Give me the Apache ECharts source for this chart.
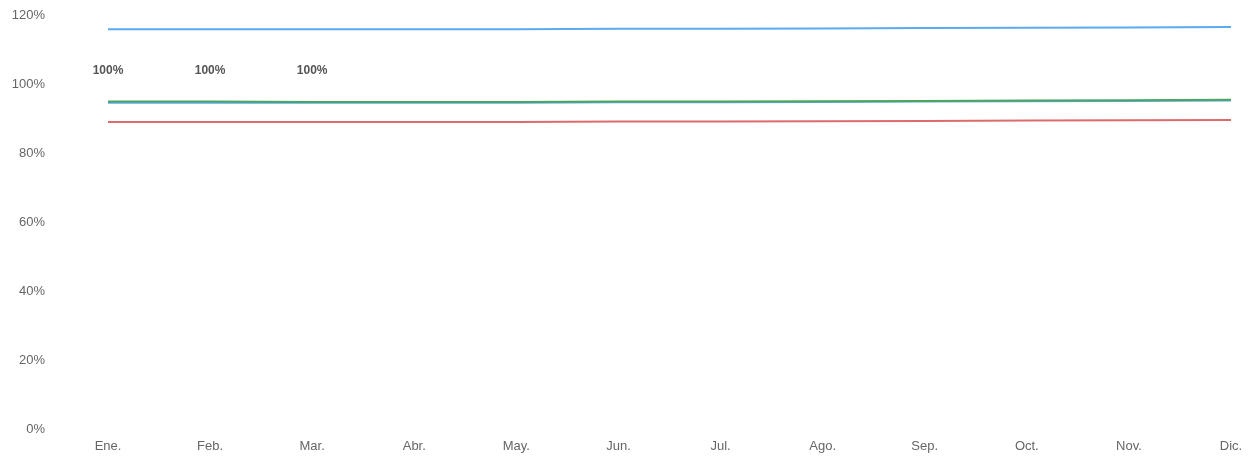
<!DOCTYPE html>
<html>
<head>
<meta charset="utf-8">
<script src="https://cdn.jsdelivr.net/npm/echarts@6/dist/echarts.min.js"></script>
<style>html,body{margin:0;padding:0;background:#fff}#c{width:1250px;height:456px}</style>
</head>
<body>
<div id="c"></div>
<script>
const categories = ['Ene.','Feb.','Mar.','Abr.','May.','Jun.','Jul.','Ago.','Sep.','Oct.','Nov.','Dic.'];
const yTicks = [0, 20, 40, 60, 80, 100, 120];
const actualBars = [100, 100, 100, null, null, null, null, null, null, null, null, null];
const blueTop = [115.9, 115.9, 115.9, 115.9, 115.9, 116.0, 116.0, 116.1, 116.2, 116.3, 116.4, 116.5];
const blueLow = [94.6, 94.6, 94.6, 94.6, 94.6, 94.7, 94.7, 94.8, 94.9, 95.0, 95.1, 95.2];
const greenLine = [94.9, 94.9, 94.8, 94.8, 94.8, 94.9, 94.9, 95.0, 95.1, 95.2, 95.3, 95.4];
const redLine = [89.0, 89.0, 89.0, 89.0, 89.0, 89.1, 89.1, 89.2, 89.3, 89.4, 89.5, 89.6];

const chart = echarts.init(document.getElementById('c'), null, {renderer: 'canvas'});
const lineBase = {type: 'line', symbol: 'none', smooth: false, silent: true};
chart.setOption({
  animation: false,
  backgroundColor: '#ffffff',
  grid: {left: 108, right: 19, top: 15, bottom: 27, containLabel: false},
  xAxis: {
    type: 'category', data: categories, boundaryGap: false,
    axisLine: {show: false}, axisTick: {show: false}, splitLine: {show: false},
    axisLabel: {color: '#666', fontSize: 13, fontFamily: 'Liberation Sans, Arial, sans-serif', margin: 11}
  },
  yAxis: {
    type: 'value', min: yTicks[0], max: yTicks[yTicks.length - 1], interval: 20,
    axisLine: {show: false}, axisTick: {show: false}, splitLine: {show: false},
    axisLabel: {color: '#666', fontSize: 13, fontFamily: 'Liberation Sans, Arial, sans-serif', margin: 63,
      formatter: v => v + '%'}
  },
  series: [
    {type: 'bar', data: actualBars, barWidth: 40, silent: true,
     itemStyle: {color: 'rgba(255,255,255,0)'},
     label: {show: true, position: 'top', distance: 7, color: '#555', fontWeight: 'bold', fontSize: 12,
       fontFamily: 'Liberation Sans, Arial, sans-serif', formatter: p => p.value + '%'}},
    Object.assign({}, lineBase, {data: blueLow, lineStyle: {color: '#5aaaf0', width: 2}}),
    Object.assign({}, lineBase, {data: greenLine, lineStyle: {color: '#4ca55a', width: 2}}),
    Object.assign({}, lineBase, {data: redLine, lineStyle: {color: '#dd6b6b', width: 2}}),
    Object.assign({}, lineBase, {data: blueTop, lineStyle: {color: '#5aaaf0', width: 2}})
  ]
});
</script>
</body>
</html>
